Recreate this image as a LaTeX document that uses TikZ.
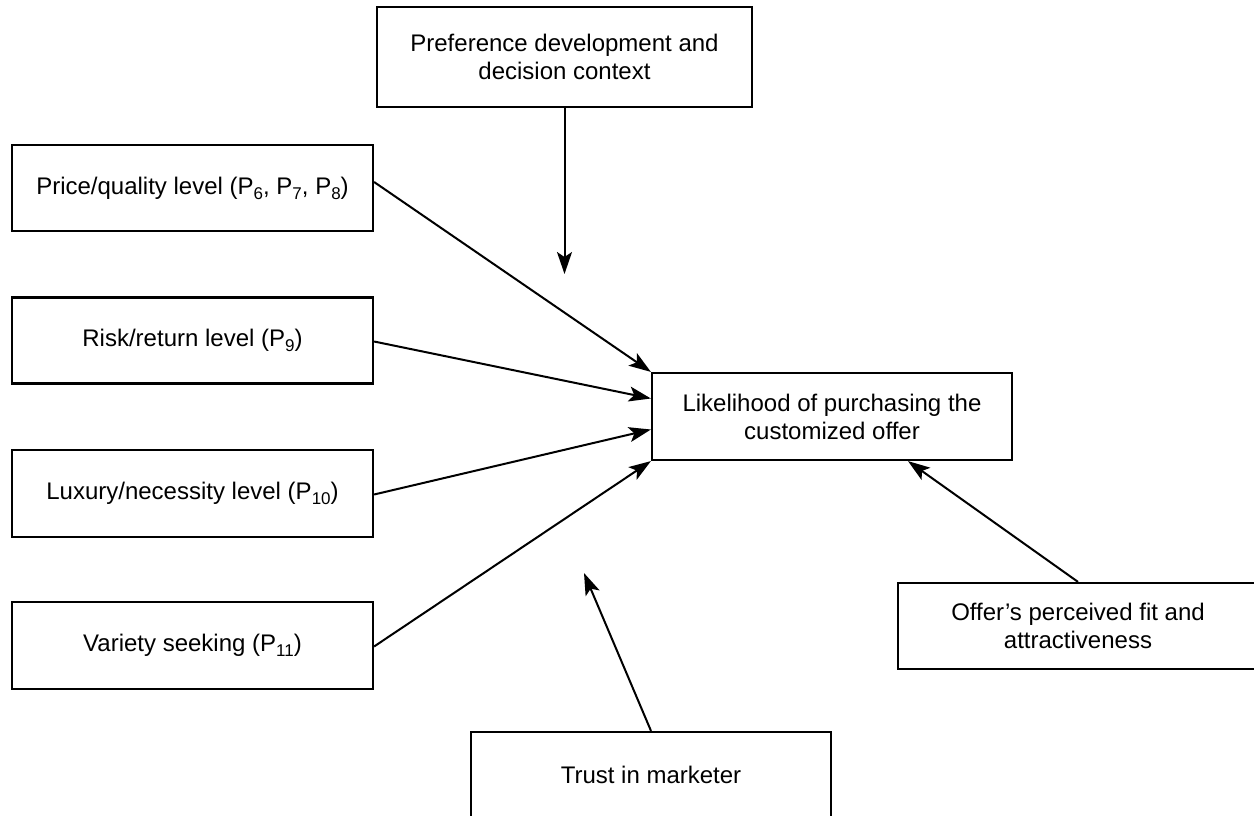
\documentclass[tikz,border=0pt]{standalone}
\usepackage{fontspec}
\setmainfont{Liberation Sans}
\usetikzlibrary{arrows.meta}
\newcommand\lsub[1]{\raisebox{-5pt}{\fontsize{17}{17}\selectfont #1}}
\begin{document}
\begin{tikzpicture}[x=1pt,y=-1pt,
  box/.style={draw, line width=2.2pt, inner sep=0pt, align=center,
    minimum width=360pt, minimum height=86pt,
    font=\fontsize{24}{28}\selectfont},
  link/.style={line width=2pt, -{Stealth[length=22pt,width=15pt,inset=5pt]}}]
\useasboundingbox (0,0) rectangle (1254,816);
\node[box, minimum width=375pt, minimum height=100pt] (pref) at (564.5,57) {Preference development and\\decision context};
\node[box, minimum width=361pt] (price) at (192.5,188) {Price/quality level (P\lsub{6}, P\lsub{7}, P\lsub{8})};
\node[box, minimum width=361pt] (risk) at (192.5,340.5) {Risk/return level (P\lsub{9})};
\node[box, minimum width=361pt, minimum height=87pt] (lux) at (192.5,493.5) {Luxury/necessity level (P\lsub{10})};
\node[box, minimum width=361pt, minimum height=87pt] (var) at (192.5,645.5) {Variety seeking (P\lsub{11})};
\node[box, minimum height=87pt] (lik) at (832,416.5) {Likelihood of purchasing the\\customized offer};
\node[box] (offer) at (1078,626) {Offer’s perceived fit and\\attractiveness};
\node[box] (trust) at (651,775) {Trust in marketer};
\coordinate (preftip) at (564.5,274);
\coordinate (trusttip) at (584,573);
\draw[link] (pref.south) -- (preftip);
\draw[link] ([yshift=6pt]price.east) -- (lik.north west);
\draw[link] ([yshift=-1pt]risk.east) -- ([yshift=18pt]lik.west);
\draw[link] ([yshift=-1pt]lux.east) -- ([yshift=-13pt]lik.west);
\draw[link] ([yshift=-1pt]var.east) -- (lik.south west);
\draw[link] (trust.north) -- (trusttip);
\draw[link] (offer.north) -- ([xshift=76pt]lik.south);
\end{tikzpicture}
\end{document}
